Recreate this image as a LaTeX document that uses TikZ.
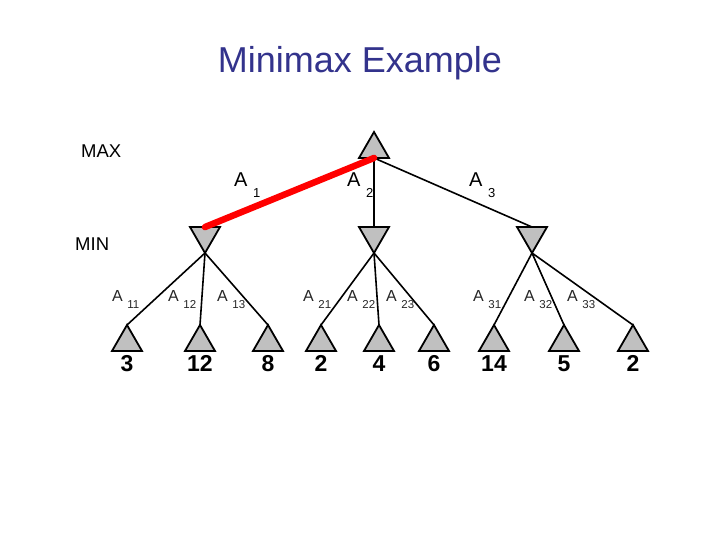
\documentclass[tikz,border=0pt]{standalone}
\usepackage{fontspec}
\setmainfont{Liberation Sans}
\usetikzlibrary{shapes.geometric}
\definecolor{trigray}{RGB}{192,192,192}
\definecolor{titleblue}{RGB}{51,51,140}
\newcommand{\toplab}[1]{A\hspace{5.5pt}\raisebox{-10pt}{\fontsize{13}{13}\selectfont #1}}
\newcommand{\lowlab}[1]{A\hspace{4.5pt}\raisebox{-7pt}{\fontsize{11.5}{11.5}\selectfont #1}}
\begin{document}
\begin{tikzpicture}[x=1pt,y=-1pt,
  tri/.style={regular polygon,regular polygon sides=3,minimum size=34.64pt,
    inner sep=0pt,outer sep=0pt,draw,line width=1.8pt,fill=trigray},
  mintri/.style={tri,shape border rotate=180},
  edge/.style={line width=1.6pt},
  lab/.style={anchor=base west,inner sep=0pt}]
  \useasboundingbox (0,0) rectangle (720,540);
  \node[anchor=base,text=titleblue,font=\fontsize{36}{36}\selectfont] (title) at (360,73) {Minimax Example};
  \node[lab,font=\fontsize{18.5}{18.5}\selectfont] (maxlab) at (81,158) {MAX};
  \node[lab,font=\fontsize{18.5}{18.5}\selectfont] (minlab) at (75,250) {MIN};
  % tree
  \node[tri,anchor=corner 1] (root) at (374,132) {};
  \node[mintri,anchor=corner 1] (min1) at (205,253) {};
  \node[mintri,anchor=corner 1] (min2) at (374,253) {};
  \node[mintri,anchor=corner 1] (min3) at (532,253) {};
  \foreach \x/\i/\p/\v in {127/1/1/3,200/2/1/12,268/3/1/8,321/4/2/2,379/5/2/4,
      434/6/2/6,494/7/3/14,564/8/3/5,633/9/3/2}{
    \node[tri,anchor=corner 1] (leaf\i) at (\x,325) {};
    \node[anchor=base,font=\fontsize{23}{23}\selectfont\bfseries] (val\i) at (\x,371) {\v};
    \draw[edge] (min\p.corner 1) -- (leaf\i.corner 1);
  }
  \draw[edge] (root.side 2) -- (min2.side 2);
  \draw[edge] (root.side 2) -- (min3.side 2);
  \draw[red,line width=6.5pt,line cap=round] (min1.side 2) -- (root.side 2);
  % labels
  \node[lab,font=\fontsize{20}{20}\selectfont] (a1) at (234,187) {\toplab{1}};
  \node[lab,font=\fontsize{20}{20}\selectfont] (a2) at (347,187) {\toplab{2}};
  \node[lab,font=\fontsize{20}{20}\selectfont] (a3) at (469,187) {\toplab{3}};
  \foreach \x/\s in {112/11,168/12,217/13,303/21,347/22,386/23,473/31,524/32,567/33}
    \node[lab,text=black!85,font=\fontsize{16}{16}\selectfont] (a\s) at (\x,301) {\lowlab{\s}};
\end{tikzpicture}
\end{document}
